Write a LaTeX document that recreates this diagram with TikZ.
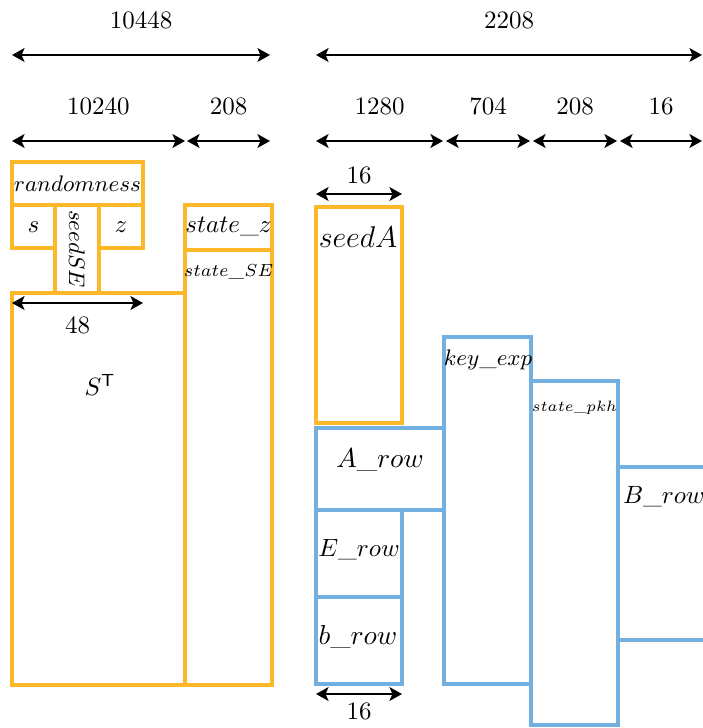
\documentclass[tikz,border=0pt]{standalone}
\usepackage{amsmath,amssymb}
\usepackage{tikz}
\usetikzlibrary{arrows.meta}
\definecolor{bufOrange}{RGB}{252,184,40}
\definecolor{bufBlue}{RGB}{114,176,226}
\tikzset{
  obuf/.style={draw=bufOrange,line width=1.3pt},
  bbuf/.style={draw=bufBlue,line width=1.3pt},
  dimline/.style={{Stealth[length=5pt,width=5.5pt,inset=1.2pt]}-{Stealth[length=5pt,width=5.5pt,inset=1.2pt]},line width=1pt},
}

\begin{document}
\begin{tikzpicture}[x=.4pt,y=-.4pt]
  \useasboundingbox (0,0) rectangle (702,728);
  % size arrows on top
  \foreach \xa/\xb/\yy/\lab [count=\i] in {12/270/55/{10448},316/702/55/{2208},
      12/185/141/{10240},187/270/141/{208},316/443/141/{1280},446/530/141/{704},
      533/617/141/{208},620/702/141/{16}} {
    \coordinate (d\i l) at (\xa,\yy);
    \coordinate (d\i r) at (\xb,\yy);
    \draw[dimline] (d\i l) -- (d\i r);
    \node (d\i lab) at ({(\xa+\xb)/2},\yy-35) {\(\lab\)};
  }

  % left part
  \draw[obuf] (12,162) rectangle (143,205);
  \node (rnd) at (77.5,184) {\small\(randomness\)};
  \draw[obuf] (12,205) rectangle (55,248);
  \node (s) at (33.5,227) {\(s\)};
  \draw[obuf] (55,205) rectangle (99,293);
  \node[rotate=-90] (seedSE) at (77,249) {\small\(seedSE\)};
  \draw[obuf] (99,205) rectangle (143,248);
  \node (z) at (121,227) {\(z\)};
  \draw[obuf] (12,293) rectangle (185,685);
  \node (ST) at (100,385) {\(S^{\mathsf{T}}\)};
  \draw[obuf] (185,205) rectangle (272,250);
  \node (statez) at (228.5,227) {\(state\_z\)};
  \draw[obuf] (185,250) rectangle (272,685);
  \node (stateSE) at (228.5,272) {\fontsize{7.4}{9}\selectfont\(state\_SE\)};
  \coordinate (w48l) at (12,303);
  \coordinate (w48r) at (143,303);
  \draw[dimline] (w48l) -- (w48r);
  \node (w48) at (77.5,325) {\(48\)};

  % right part
  \draw[obuf] (316,207) rectangle (402,423);
  \node (seedA) at (358,237) {\large\(seedA\)};
  \coordinate (wal) at (316,194);
  \coordinate (war) at (402,194);
  \draw[dimline] (wal) -- (war);
  \node (wa) at (359,175) {\(16\)};
  \draw[bbuf] (316,428) rectangle (444,510);
  \node (Arow) at (380,460) {\fontsize{11}{13}\selectfont\(A\_row\)};
  \draw[bbuf] (316,510) rectangle (402,597);
  \node (Erow) at (359,550) {\(E\_row\)};
  \draw[bbuf] (316,597) rectangle (402,684);
  \node (brow) at (358,637) {\fontsize{11}{13}\selectfont\(b\_row\)};
  \draw[bbuf] (444,337) rectangle (531,684);
  \node (keyexp) at (488,360) {\small\(key\_exp\)};
  \draw[bbuf] (531,381) rectangle (618,725);
  \node (statepkh) at (574.5,408) {\fontsize{5.6}{7}\selectfont\(state\_pkh\)};
  \draw[bbuf] (618,467) rectangle (712,640);
  \node[anchor=west,inner sep=1pt] (Brow) at (620,497) {\(B\_row\)};
  \coordinate (wbl) at (316,694);
  \coordinate (wbr) at (402,694);
  \draw[dimline] (wbl) -- (wbr);
  \node (wb) at (359,711) {\(16\)};
\end{tikzpicture}
\end{document}
